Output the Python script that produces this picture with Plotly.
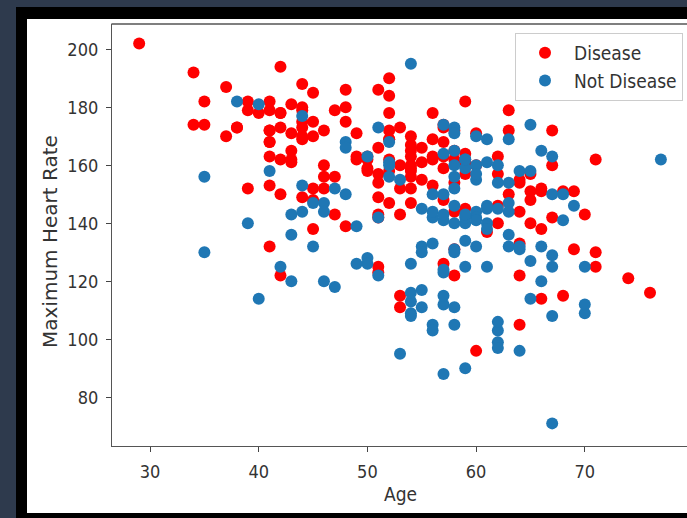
import plotly.graph_objects as go

# Age and maximum heart rate (thalach), split by diagnosis
disease_age = [63, 37, 41, 56, 57, 57, 56, 44, 52, 57, 54, 48, 49, 64, 58, 50, 58, 66, 43, 69,
               59, 44, 42, 61, 40, 71, 59, 51, 65, 53, 41, 65, 44, 54, 51, 46, 54, 54, 65, 65,
               51, 48, 45, 53, 39, 52, 44, 47, 53, 53, 51, 66, 62, 44, 63, 52, 48, 45, 34, 57,
               71, 54, 52, 41, 58, 35, 51, 45, 44, 62, 54, 51, 29, 51, 43, 55, 51, 59, 52, 58,
               41, 45, 60, 52, 42, 67, 68, 46, 54, 58, 48, 57, 52, 54, 45, 53, 62, 52, 43, 53,
               42, 59, 63, 42, 50, 68, 69, 45, 50, 50, 64, 57, 64, 43, 55, 37, 41, 56, 46, 46,
               64, 59, 41, 54, 39, 34, 47, 67, 52, 74, 54, 49, 42, 41, 41, 49, 60, 62, 57, 64,
               51, 43, 42, 67, 76, 70, 44, 60, 44, 42, 66, 71, 64, 66, 39, 58, 47, 35, 58, 56,
               56, 55, 41, 38, 38]
disease_hr = [150, 187, 172, 178, 163, 148, 153, 173, 162, 174, 160, 139, 171, 144, 162, 158, 172, 114, 171, 151,
              161, 179, 178, 137, 178, 162, 157, 123, 157, 152, 168, 140, 188, 152, 125, 160, 170, 165, 148, 151,
              142, 180, 148, 143, 182, 172, 180, 156, 115, 160, 149, 151, 146, 175, 172, 158, 186, 185, 174, 159,
              130, 156, 190, 132, 165, 182, 143, 175, 170, 163, 147, 154, 202, 186, 165, 161, 166, 164, 184, 154,
              179, 170, 160, 178, 122, 160, 151, 156, 158, 122, 175, 168, 169, 159, 138, 111, 157, 147, 162, 173,
              178, 145, 179, 194, 163, 115, 131, 152, 162, 159, 154, 173, 133, 161, 155, 170, 168, 162, 172, 152,
              122, 182, 172, 167, 179, 192, 143, 172, 169, 121, 163, 162, 162, 153, 163, 163, 96, 140, 126, 105,
              157, 181, 173, 142, 116, 143, 149, 171, 169, 150, 138, 125, 155, 152, 152, 131, 179, 174, 144, 163,
              169, 166, 182, 173, 173]

healthy_age = [67, 67, 62, 63, 53, 56, 48, 58, 58, 60, 40, 60, 64, 43, 57, 55, 65, 61, 58, 50,
               44, 60, 54, 50, 41, 51, 58, 54, 60, 60, 59, 46, 67, 62, 65, 44, 60, 58, 68, 62,
               52, 59, 60, 49, 59, 57, 61, 39, 61, 56, 43, 62, 63, 65, 48, 63, 55, 65, 56, 54,
               70, 62, 35, 59, 64, 47, 57, 55, 64, 70, 51, 58, 60, 77, 35, 70, 59, 64, 57, 56,
               48, 56, 66, 54, 69, 51, 43, 62, 67, 59, 45, 58, 50, 62, 38, 66, 52, 53, 63, 54,
               66, 55, 49, 54, 56, 46, 61, 67, 58, 47, 52, 58, 57, 58, 61, 42, 52, 59, 40, 61,
               46, 59, 57, 57, 55, 61, 58, 58, 67, 44, 63, 63, 59, 57, 45, 68, 57, 57]
healthy_hr = [108, 129, 160, 147, 155, 142, 168, 160, 173, 132, 114, 160, 158, 120, 112, 132, 114, 169, 165, 128,
              153, 144, 109, 163, 158, 142, 131, 113, 142, 155, 140, 147, 163, 99, 158, 177, 141, 111, 150, 145,
              161, 142, 157, 139, 162, 150, 140, 140, 146, 144, 136, 97, 132, 127, 150, 154, 111, 174, 133, 126,
              125, 103, 130, 159, 131, 152, 124, 145, 96, 109, 173, 171, 170, 162, 156, 112, 143, 132, 88, 105,
              166, 150, 120, 195, 146, 122, 143, 106, 125, 125, 147, 130, 126, 154, 182, 165, 160, 95, 169, 108,
              132, 117, 126, 116, 103, 144, 145, 71, 156, 118, 168, 105, 141, 152, 125, 125, 156, 134, 181, 138,
              120, 162, 164, 143, 130, 161, 140, 146, 150, 144, 144, 136, 90, 123, 132, 141, 115, 174]

series_names = ["Disease", "Not Disease"]
series_colors = ["#ff0000", "#1f77b4"]

x_ticks = [30, 40, 50, 60, 70]
y_ticks = [80, 100, 120, 140, 160, 180, 200]

W, H = 687, 518
L, R, T, B = 112, 0, 24, 72
PW, PH = W - L - R, H - T - B


def px_x(px):
    return (px - L) / PW


def px_y(py):
    return (H - B - py) / PH


fig = go.Figure()
for name, color, xs, ys in [
    (series_names[0], series_colors[0], disease_age, disease_hr),
    (series_names[1], series_colors[1], healthy_age, healthy_hr),
]:
    fig.add_trace(go.Scatter(
        x=xs, y=ys, mode="markers", name=name,
        marker=dict(color=color, size=12, line=dict(width=0)),
    ))

narrow = "DejaVu Sans Condensed, DejaVu Sans"
tick_font = dict(family=narrow, size=18, color="#333333")
spine_color = "#555555"

axis_common = dict(
    showgrid=False, zeroline=False, showline=True, linecolor=spine_color, linewidth=1.3,
    mirror=False, ticks="outside", ticklen=5, tickwidth=1, tickcolor="#444444",
    tickfont=tick_font, ticklabelstandoff=4,
)
fig.update_xaxes(range=[26.5, 26.5 + (PW - 1) / 10.85], tickvals=x_ticks, **axis_common)
fig.update_yaxes(range=[63.2, 208.7], tickvals=y_ticks, **axis_common)

# window frame: slate page, black border, white canvas, plus the top spine
shapes = [
    dict(type="rect", xref="paper", yref="paper", layer="below",
         x0=px_x(16), x1=px_x(W + 5), y0=px_y(H + 5), y1=px_y(7),
         fillcolor="#000000", line=dict(width=0)),
    dict(type="rect", xref="paper", yref="paper", layer="below",
         x0=px_x(27), x1=px_x(W + 5), y0=px_y(513), y1=px_y(19),
         fillcolor="#ffffff", line=dict(width=0)),
    dict(type="line", xref="paper", yref="paper", layer="above",
         x0=px_x(L - 0.6), x1=px_x(W + 5), y0=1, y1=1,
         line=dict(color=spine_color, width=1.6)),
]

annotations = [
    dict(text="Age", xref="paper", yref="paper", x=px_x(400), y=px_y(494),
         showarrow=False, xanchor="center", yanchor="middle",
         font=dict(family=narrow, size=19, color="#333333")),
    dict(text="Maximum Heart Rate", xref="paper", yref="paper", x=px_x(50), y=px_y(242),
         showarrow=False, xanchor="center", yanchor="middle", textangle=-90,
         font=dict(family="DejaVu Sans", size=20, color="#333333")),
]

fig.update_layout(
    width=W, height=H,
    margin=dict(l=L, r=R, t=T, b=B, pad=0),
    paper_bgcolor="#2e3a4d",
    plot_bgcolor="#ffffff",
    shapes=shapes,
    annotations=annotations,
    showlegend=True,
    legend=dict(
        x=px_x(683), y=px_y(33), xanchor="right", yanchor="top",
        bgcolor="rgba(255,255,255,0.8)", bordercolor="#cccccc", borderwidth=1,
        font=dict(family=narrow, size=19, color="#333333"),
        itemwidth=48,
    ),
)

fig.write_html("out.html")
